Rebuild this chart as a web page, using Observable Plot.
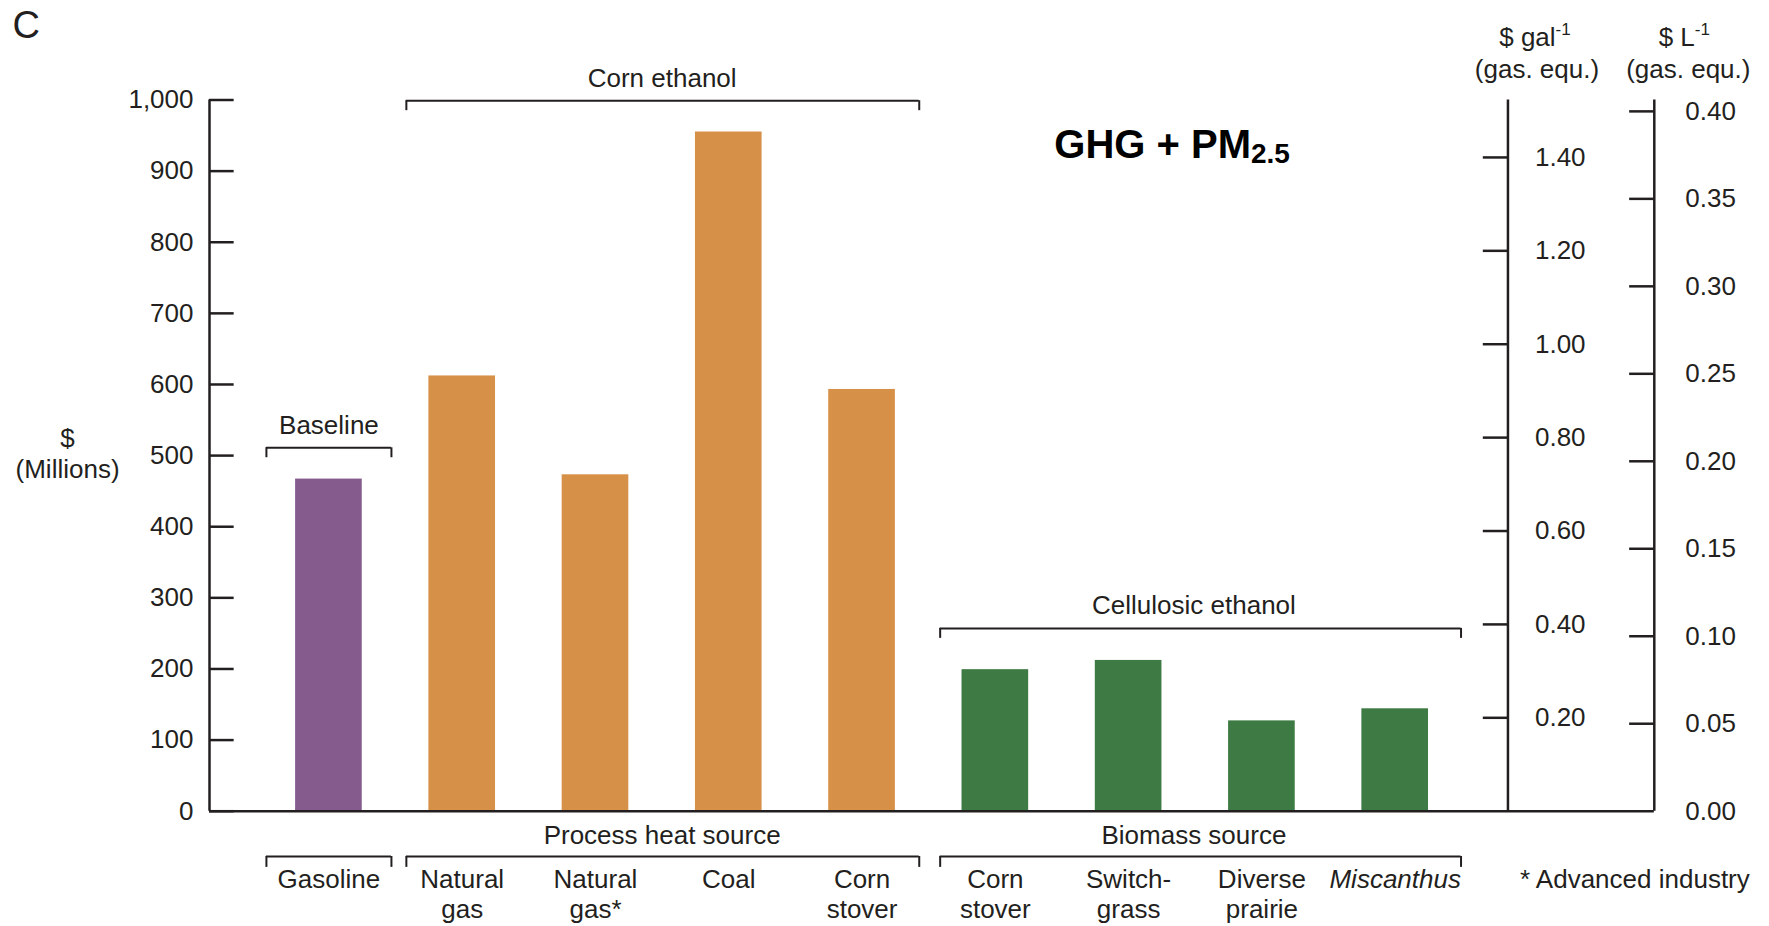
<!DOCTYPE html>
<html><head><meta charset="utf-8">
<script src="https://cdn.jsdelivr.net/npm/d3@7"></script>
<script src="https://cdn.jsdelivr.net/npm/@observablehq/plot@0.6"></script>
<style>html,body{margin:0;padding:0;background:#fff;overflow:hidden}</style>
</head><body><div id="chart"></div>
<script>
// ---- data ----
const categories = ["Gasoline", "Natural\ngas", "Natural\ngas*", "Coal", "Corn\nstover", "Corn\nstover", "Switch-\ngrass", "Diverse\nprairie", "Miscanthus"];
const groups = ["Baseline", "Corn ethanol", "Corn ethanol", "Corn ethanol", "Corn ethanol", "Cellulosic ethanol", "Cellulosic ethanol", "Cellulosic ethanol", "Cellulosic ethanol"];
const values = [467, 612, 473, 955, 593, 199, 212, 127, 144]; // $ millions (GHG + PM2.5)
const groupNames = ["Baseline", "Corn ethanol", "Cellulosic ethanol"];
const groupColors = ["#845B8C", "#D69047", "#3E7A43"];
const leftTicks = [0, 100, 200, 300, 400, 500, 600, 700, 800, 900, 1000];
const galTicks = [0.20, 0.40, 0.60, 0.80, 1.00, 1.20, 1.40];
const literTicks = [0.00, 0.05, 0.10, 0.15, 0.20, 0.25, 0.30, 0.35, 0.40];
const galToMillions = 656.6;     // $ millions per $ gal^-1
const literToMillions = 2460;    // $ millions per $ L^-1
const topBracketLabels = ["Baseline", "Corn ethanol", "Cellulosic ethanol"];
const bottomBracketLabels = ["", "Process heat source", "Biomass source"];

// ---- layout helpers (index units on x) ----
const xStart = -0.896, xEnd = 9.944, galAxisX = 8.846;
const barHalf = 0.25, tickLen = 0.185;
const bracketX = [[-0.469, 0.469], [0.581, 4.429], [4.586, 8.494]];
const bracketLabelX = [0.0, 2.5, 6.49];
const topBracketY = [511, 999, 257];
const ink = "#231f20";

const data = categories.map((c, i) => ({i, label: c, value: values[i], group: groups[i]}));
const tops = topBracketLabels.map((l, k) => ({label: l, x1: bracketX[k][0], x2: bracketX[k][1], lx: bracketLabelX[k], y: topBracketY[k]}));
const bottoms = bottomBracketLabels.map((l, k) => ({label: l, x1: bracketX[k][0], x2: bracketX[k][1], lx: bracketLabelX[k]}));
const fmt = d3.format(",");

const chart = Plot.plot({
  width: 1769, height: 926,
  marginLeft: 209, marginRight: 115.2, marginTop: 99.5, marginBottom: 115.3,
  x: {domain: [xStart, xEnd], axis: null},
  y: {domain: [0, 1000], axis: null},
  color: {domain: groupNames, range: groupColors},
  style: {fontFamily: "'Liberation Sans', Arial, Helvetica, sans-serif", fontSize: "26px", color: ink, background: "#fff"},
  marks: [
    // bars
    Plot.rectY(data, {x1: d => d.i - barHalf, x2: d => d.i + barHalf, y1: 0, y2: "value", fill: "group"}),
    // left axis
    Plot.ruleX([xStart], {y1: 0, y2: 1000, stroke: ink, strokeWidth: 2.5}),
    Plot.ruleY(leftTicks, {y: d => d, x1: xStart, x2: xStart + tickLen, stroke: ink, strokeWidth: 2.5}),
    Plot.text(leftTicks, {x: xStart, y: d => d, text: d => fmt(d), textAnchor: "end", dx: -16, lineAnchor: "middle", fill: ink}),
    Plot.text(["$\n(Millions)"], {x: -1.961, y: 468, text: d => d, textAnchor: "middle", lineAnchor: "bottom", lineHeight: 1.19, fill: ink}),
    // baseline
    Plot.ruleY([0], {x1: xStart, x2: xEnd, stroke: ink, strokeWidth: 2.5}),
    // $ per gallon axis
    Plot.ruleX([galAxisX], {y1: 0, y2: 1000, stroke: ink, strokeWidth: 2.5}),
    Plot.ruleY(galTicks, {y: d => d * galToMillions, x1: galAxisX - tickLen, x2: galAxisX, stroke: ink, strokeWidth: 2.5}),
    Plot.text(galTicks, {x: galAxisX, y: d => d * galToMillions, text: d => d.toFixed(2), textAnchor: "start", dx: 27, lineAnchor: "middle", fill: ink}),
    Plot.text(["$ gal-1"], {x: galAxisX, y: 1000, text: d => d, textAnchor: "middle", dx: 27, dy: -54.5, lineAnchor: "bottom", fill: ink}),
    Plot.text(["(gas. equ.)"], {x: galAxisX, y: 1000, text: d => d, textAnchor: "middle", dx: 29, dy: -22.5, lineAnchor: "bottom", fill: ink}),
    // $ per liter axis
    Plot.ruleX([xEnd], {y1: 0, y2: 1000, stroke: ink, strokeWidth: 2.5}),
    Plot.ruleY(literTicks.filter(d => d > 0), {y: d => d * literToMillions, x1: xEnd - tickLen, x2: xEnd, stroke: ink, strokeWidth: 2.5}),
    Plot.text(literTicks, {x: xEnd, y: d => d * literToMillions, text: d => d.toFixed(2), textAnchor: "start", dx: 31, lineAnchor: "middle", fill: ink}),
    Plot.text(["$ L-1"], {x: xEnd, y: 1000, text: d => d, textAnchor: "middle", dx: 30, dy: -54.5, lineAnchor: "bottom", fill: ink}),
    Plot.text(["(gas. equ.)"], {x: xEnd, y: 1000, text: d => d, textAnchor: "middle", dx: 34, dy: -22.5, lineAnchor: "bottom", fill: ink}),
    // top brackets
    Plot.ruleY(tops, {y: "y", x1: "x1", x2: "x2", stroke: ink, strokeWidth: 2}),
    Plot.ruleX(tops, {x: "x1", y1: "y", y2: d => d.y - 14, stroke: ink, strokeWidth: 2}),
    Plot.ruleX(tops, {x: "x2", y1: "y", y2: d => d.y - 14, stroke: ink, strokeWidth: 2}),
    Plot.text(tops, {x: "lx", y: "y", text: "label", dy: -14, lineAnchor: "bottom", fill: ink}),
    // bottom brackets
    Plot.ruleY(bottoms, {y: -63.7, x1: "x1", x2: "x2", stroke: ink, strokeWidth: 2}),
    Plot.ruleX(bottoms, {x: "x1", y1: -63.7, y2: -79, stroke: ink, strokeWidth: 2}),
    Plot.ruleX(bottoms, {x: "x2", y1: -63.7, y2: -79, stroke: ink, strokeWidth: 2}),
    Plot.text(bottoms.filter(d => d.label), {x: "lx", y: 0, text: "label", dy: 32.3, lineAnchor: "bottom", fill: ink}),
    // category labels
    Plot.text(data.filter(d => d.label !== "Miscanthus"), {x: "i", y: 0, text: "label", dy: 56, lineAnchor: "top", lineHeight: 1.15, fill: ink}),
    Plot.text(data.filter(d => d.label === "Miscanthus"), {x: "i", y: 0, text: "label", dy: 56, lineAnchor: "top", lineHeight: 1.15, fontStyle: "italic", fill: ink}),
    Plot.text(["* Advanced industry"], {x: galAxisX, y: 0, text: d => d, textAnchor: "start", dx: 12, dy: 56, lineAnchor: "top", lineHeight: 1.15, fill: ink}),
    // title & panel letter
    Plot.text(["GHG + PM2.5"], {x: 6.326, y: 919, text: d => d, lineAnchor: "bottom", fontSize: 40, fontWeight: "bold", fill: "#000"}),
    Plot.text(["C"], {x: -2.374, y: 1086.5, text: d => d, textAnchor: "start", lineAnchor: "bottom", fontSize: 38, fill: ink})
  ]
});

// sub/superscripts
chart.querySelectorAll("text").forEach(t => {
  const s = t.textContent;
  const ns = "http://www.w3.org/2000/svg";
  if (s === "GHG + PM2.5") {
    t.textContent = "GHG + PM";
    const ts = document.createElementNS(ns, "tspan");
    ts.setAttribute("font-size", "28");
    ts.setAttribute("dy", "5");
    ts.textContent = "2.5";
    t.appendChild(ts);
  } else if (s === "$ gal-1" || s === "$ L-1") {
    t.textContent = s.slice(0, -2);
    const ts = document.createElementNS(ns, "tspan");
    ts.setAttribute("font-size", "17");
    ts.setAttribute("dy", "-11");
    ts.textContent = "-1";
    t.appendChild(ts);
  }
});

document.getElementById("chart").appendChild(chart);
</script></body></html>
